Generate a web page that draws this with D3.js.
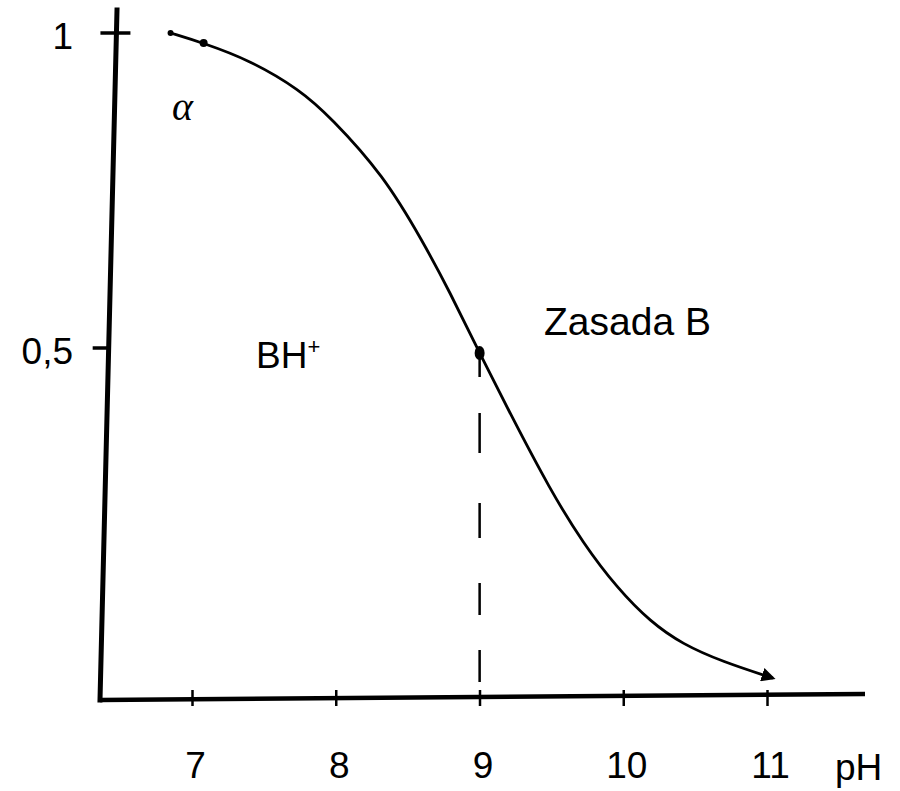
<!DOCTYPE html>
<html>
<head>
<meta charset="utf-8">
<script src="https://cdn.jsdelivr.net/npm/d3@7"></script>
<style>
	body { margin: 0; background: #fff; }
	text { font-family: "Liberation Sans", Arial, sans-serif; fill: #000; }
</style>
</head>
<body>
<div id="chart"></div>
<script>
// values
var xTicks = [7, 8, 9, 10, 11];
var yTicks = [0.5, 1];
var yTickLabels = {0.5: "0,5", 1: "1"};
var curvePH =    [6.83, 7.06, 7.38, 7.73, 7.94, 8.31, 8.59, 8.77, 8.98, 9.19, 9.47, 9.70, 9.94, 10.17, 10.39, 10.67, 11.02];
var curveAlpha = [1.00, 0.984, 0.957, 0.910, 0.867, 0.775, 0.667, 0.590, 0.492, 0.397, 0.275, 0.190, 0.118, 0.065, 0.030, 0.002, -0.024];
var startMark = {ph: 7.06, alpha: 0.984};
var pKaMark = {ph: 8.98, alpha: 0.492};

var width = 900, height = 791;
var axisY = 698;      // pixel row of the drawn pH axis
var fontSize = 37;

var svg = d3.select("#chart").append("svg")
	.attr("width", width)
	.attr("height", height);

svg.append("rect").attr("width", width).attr("height", height).attr("fill", "#fff");

// scales
var xScale = d3.scaleLinear().domain([7, 11]).range([195, 770]);
var yScale = d3.scaleLinear().domain([0, 1]).range([663, 33]);
// the vertical axis is drawn slightly slanted
var axisX = d3.scaleLinear().domain([10, 700]).range([117, 100]);

// y axis line
svg.append("line")
	.attr("x1", axisX(10)).attr("y1", 10)
	.attr("x2", axisX(700)).attr("y2", 700)
	.attr("stroke", "#000").attr("stroke-width", 5)
	.attr("stroke-linecap", "square");

// x axis line
svg.append("line")
	.attr("x1", axisX(700)).attr("y1", 700)
	.attr("x2", 865).attr("y2", 694)
	.attr("stroke", "#000").attr("stroke-width", 4.5);

// x axis ticks + labels
var xAxis = d3.axisBottom(xScale)
	.tickValues(xTicks)
	.tickSize(9)
	.tickFormat(d3.format("d"));

var gx = svg.append("g")
	.attr("transform", "translate(0," + axisY + ")")
	.call(xAxis);
gx.select(".domain").remove();
gx.selectAll(".tick line")
	.attr("y1", -8).attr("y2", 8)
	.attr("stroke-width", 2.5)
	.attr("transform", "translate(-3,0)");
gx.selectAll(".tick text")
	.attr("y", 80).attr("dy", 0)
	.style("font-size", fontSize + "px")
	.style("font-family", "Liberation Sans, Arial, sans-serif")
	.attr("fill", "#000");

svg.append("text")
	.attr("x", 835).attr("y", 780)
	.style("font-size", fontSize + "px")
	.text("pH");

// y ticks
var gy = svg.selectAll(".ytick")
	.data(yTicks)
	.enter().append("g")
	.attr("class", "ytick");
gy.append("line")
	.attr("x1", function(d) { return axisX(yScale(d)) - 16; })
	.attr("x2", function(d) { return axisX(yScale(d)) + (d == 1 ? 14 : 0); })
	.attr("y1", function(d) { return yScale(d); })
	.attr("y2", function(d) { return yScale(d); })
	.attr("stroke", "#000").attr("stroke-width", 3.5);
gy.append("text")
	.attr("x", 73)
	.attr("y", function(d) { return yScale(d) + 16; })
	.attr("text-anchor", "end")
	.style("font-size", fontSize + "px")
	.text(function(d) { return yTickLabels[d]; });

// dashed line at pKa
svg.append("line")
	.attr("x1", xScale(pKaMark.ph)).attr("x2", xScale(pKaMark.ph))
	.attr("y1", yScale(pKaMark.alpha) + 4).attr("y2", axisY)
	.attr("stroke", "#000").attr("stroke-width", 2.5)
	.attr("stroke-dasharray", "20 36 40 50 35 45 32 35 32 16");

// arrow head
svg.append("defs").append("marker")
	.attr("id", "arrow")
	.attr("viewBox", "0 0 10 10")
	.attr("refX", 8).attr("refY", 5)
	.attr("markerWidth", 5).attr("markerHeight", 5)
	.attr("orient", "auto")
	.append("path")
	.attr("d", "M0,0L10,5L0,10z")
	.attr("fill", "#000");

// the curve
var pts = curvePH.map(function(p, i) { return [p, curveAlpha[i]]; });
var line = d3.line()
	.x(function(d) { return xScale(d[0]); })
	.y(function(d) { return yScale(d[1]); })
	.curve(d3.curveBasis);

svg.append("path")
	.datum(pts)
	.attr("d", line)
	.attr("fill", "none")
	.attr("stroke", "#000")
	.attr("stroke-width", 2.8)
	.attr("marker-end", "url(#arrow)");

// blunt start of the curve
svg.append("circle")
	.attr("cx", xScale(curvePH[0])).attr("cy", yScale(curveAlpha[0]))
	.attr("r", 3).attr("fill", "#000");

// marks on the curve
svg.append("circle")
	.attr("cx", xScale(startMark.ph)).attr("cy", yScale(startMark.alpha))
	.attr("r", 4).attr("fill", "#000");
svg.append("ellipse")
	.attr("cx", xScale(pKaMark.ph)).attr("cy", yScale(pKaMark.alpha))
	.attr("rx", 5).attr("ry", 7).attr("fill", "#000");

// annotations
svg.append("text")
	.attr("x", 172).attr("y", 120)
	.style("font-family", "Liberation Serif, Times New Roman, serif")
	.style("font-style", "italic")
	.style("font-size", "40px")
	.text("α");

var bh = svg.append("text")
	.attr("x", 256).attr("y", 368)
	.style("font-size", fontSize + "px");
bh.append("tspan").text("BH");
bh.append("tspan")
	.attr("dy", -14)
	.style("font-size", "22px")
	.text("+");

svg.append("text")
	.attr("x", 544).attr("y", 335)
	.style("font-size", "39px")
	.text("Zasada B");
</script>
</body>
</html>
